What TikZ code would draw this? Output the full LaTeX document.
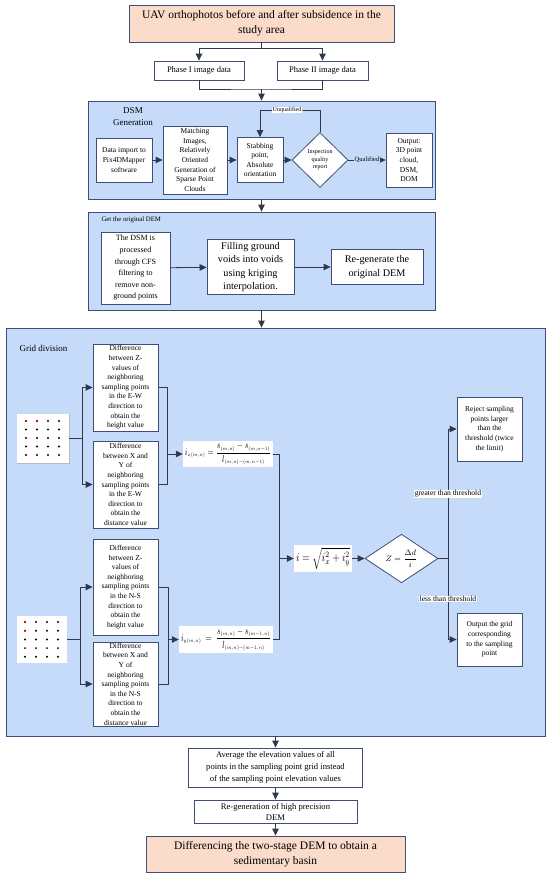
\documentclass[tikz,border=0pt]{standalone}
\usepackage{fontspec}
\setmainfont{Liberation Serif}
\usepackage{amsmath,amssymb}
\usepackage{graphicx}
\usepackage{tikz}
\usetikzlibrary{shapes.geometric,arrows.meta,positioning,calc}

\definecolor{peach}{RGB}{251,219,201}
\definecolor{panelblue}{RGB}{198,219,250}
\definecolor{edgeblue}{RGB}{62,78,118}
\definecolor{wire}{RGB}{50,56,74}

\begin{document}
\begin{tikzpicture}[
    x=1pt, y=-1pt,
    box/.style={rectangle, draw=edgeblue, fill=white, line width=0.8pt, align=center, inner sep=1pt},
    headbox/.style={box, fill=peach, font=\fontsize{11.5}{15}\selectfont},
    panel/.style={rectangle, draw=edgeblue, fill=panelblue, line width=0.8pt, inner sep=0pt},
    decision/.style={diamond, draw=edgeblue, fill=white, line width=0.8pt, align=center, inner sep=0pt},
    formula/.style={rectangle, fill=white, inner sep=0pt},
    line/.style={draw=wire, line width=0.8pt},
    arrow/.style={line, -{Triangle[width=6.5pt,length=7pt]}},
    lbl/.style={fill=white, inner sep=0.6pt, font=\fontsize{7.6}{8}\selectfont},
    small/.style={font=\fontsize{7.5}{9.6}\selectfont}
]
    \useasboundingbox (0,0) rectangle (550,878);

    % Input
    \node[headbox, minimum width=265pt, minimum height=37pt] (title) at (261.5,23.5)
        {UAV orthophotos before and after subsidence in the\\study area};
    \node[box, font=\fontsize{8.5}{10}\selectfont, minimum width=90pt, minimum height=19pt] (phaseA) at (199,70.5) {Phase I image data};
    \node[box, font=\fontsize{8.5}{10}\selectfont, minimum width=91pt, minimum height=19pt] (phaseB) at (322.5,70.5) {Phase II image data};
    \coordinate (split) at (261.5,48);
    \coordinate (merge) at (261.5,89);

    % DSM generation
    \node[panel, minimum width=347pt, minimum height=98pt] (dsmpanel) at (261.5,150) {};
    \node[font=\fontsize{9}{12}\selectfont, align=center] (dsmlbl) at (133,117) {DSM\\Generation};
    \node[box, small, minimum width=56pt, minimum height=44pt] (import) at (124,160)
        {Data import to\\Pix4DMapper\\software};
    \node[box, small, minimum width=64pt, minimum height=68pt] (match) at (195,160)
        {Matching\\Images,\\Relatively\\Oriented\\Generation of\\Sparse Point\\Clouds};
    \node[box, small, minimum width=46pt, minimum height=45pt] (stab) at (260,160)
        {Stabbing\\point,\\Absolute\\orientation};
    \node[decision, font=\fontsize{6}{7.5}\selectfont, minimum width=56pt, minimum height=55pt] (inspect) at (320,160)
        {Inspection\\quality\\report};
    \node[box, small, minimum width=46pt, minimum height=54pt] (dsmout) at (409,160)
        {Output:\\3D point\\cloud,\\DSM,\\DOM};
    \coordinate (unq) at (287,110);

    % Original DEM
    \node[panel, minimum width=347pt, minimum height=98pt] (dempanel) at (261.5,261) {};
    \node[anchor=west, font=\fontsize{6.8}{8}\selectfont] (demlbl) at (98,220) {Get the original DEM};
    \node[box, font=\fontsize{8}{11.6}\selectfont, minimum width=69pt, minimum height=72pt] (filter) at (135.5,268)
        {The DSM is\\processed\\through CFS\\filtering to\\remove non-\\ground points};
    \node[box, font=\fontsize{10.2}{13.6}\selectfont, minimum width=87pt, minimum height=55pt] (krig) at (250.5,267)
        {Filling ground\\voids into voids\\using kriging\\interpolation.};
    \node[box, font=\fontsize{10.2}{13.4}\selectfont, minimum width=92pt, minimum height=35pt] (regdem) at (377,267)
        {Re-generate the\\original DEM};

    % Grid division
    \node[panel, minimum width=539pt, minimum height=408pt] (gridpanel) at (275.5,532) {};
    \node[anchor=west, font=\fontsize{9}{11}\selectfont] (gridlbl) at (16,348) {Grid division};

    \node[rectangle, fill=white, minimum width=52pt, minimum height=49pt, inner sep=0pt] (gridEW) at (43,438.5) {};
    \node[rectangle, fill=white, minimum width=50pt, minimum height=47pt, inner sep=0pt] (gridNS) at (42,639.5) {};
    \draw[gray!55, line width=1pt] (gridEW.north east) -- (gridEW.south east) -- (gridEW.south west);
    \foreach \c in {0,...,3}
        \foreach \r in {0,...,4} {
            \fill ({26+\c*11},{421+\r*8.5}) circle (1.1pt);
            \fill ({25+\c*11},{622+\r*8.7}) circle (1.1pt);
        }
    \fill[red] (26,421) circle (1.1pt) (37,421) circle (1.1pt);
    \fill[red] (25,622) circle (1.1pt) (25,630.7) circle (1.1pt);

    \node[box, small, minimum width=65pt, minimum height=87pt] (zEW) at (125.5,387.5)
        {Difference\\between Z-\\values of\\neighboring\\sampling points\\in the E-W\\direction to\\obtain the\\height value};
    \node[box, small, minimum width=65pt, minimum height=87pt] (dEW) at (125.5,484.5)
        {Difference\\between X and\\Y of\\neighboring\\sampling points\\in the E-W\\direction to\\obtain the\\distance value};
    \node[box, small, minimum width=65pt, minimum height=96pt] (zNS) at (125.5,587)
        {Difference\\between Z-\\values of\\neighboring\\sampling points\\in the N-S\\direction to\\obtain the\\height value};
    \node[box, small, minimum width=65pt, minimum height=84pt] (dNS) at (125.5,684)
        {Difference\\between X and\\Y of\\neighboring\\sampling points\\in the N-S\\direction to\\obtain the\\distance value};

    \node[formula, minimum width=90pt, minimum height=26pt] (slopeX) at (228,454)
        {\resizebox*{86pt}{22pt}{$i_{\scriptscriptstyle x(m,n)}=\dfrac{s_{\scriptscriptstyle (m,n)}-s_{\scriptscriptstyle (m,n-1)}}{l_{\scriptscriptstyle (m,n)-(m,n-1)}}$}};
    \node[formula, minimum width=94pt, minimum height=27pt] (slopeY) at (226,639.5)
        {\resizebox*{90pt}{23pt}{$i_{\scriptscriptstyle y(m,n)}\;=\;\dfrac{s_{\scriptscriptstyle (m,n)}-s_{\scriptscriptstyle (m-1,n)}}{l_{\scriptscriptstyle (m,n)-(m-1,n)}}$}};
    \node[formula, minimum width=58pt, minimum height=27pt] (slope) at (323,558.5)
        {\resizebox*{54pt}{22pt}{$i=\sqrt{i_x^2+i_y^2}$}};
    \node[decision, font=\fontsize{8}{9}\selectfont, minimum width=73pt, minimum height=45pt] (zval) at (401.5,558.5)
        {$Z=\dfrac{\Delta d}{i}$};

    \node[box, font=\fontsize{7.5}{9.6}\selectfont, minimum width=65pt, minimum height=64pt] (reject) at (489.5,429)
        {Reject sampling\\points larger\\than the\\threshold (twice\\the limit)};
    \node[box, font=\fontsize{7.5}{9.6}\selectfont, minimum width=65pt, minimum height=53pt] (keep) at (489.5,639.5)
        {Output the grid\\corresponding\\to the sampling\\point};

    \coordinate (forkEW) at (82,438.5);
    \coordinate (joinEW) at (167,454);
    \coordinate (forkNS) at (80,639.5);
    \coordinate (joinNS) at (168,639.5);
    \coordinate (joinXY) at (279,558.5);
    \coordinate (thresh) at (448,558.5);

    % Output
    \node[box, font=\fontsize{8.6}{12}\selectfont, minimum width=174pt, minimum height=39pt] (average) at (275.5,767.5)
        {Average the elevation values of all\\points in the sampling point grid instead\\of the sampling point elevation values};
    \node[box, font=\fontsize{8.6}{11}\selectfont, minimum width=163pt, minimum height=23pt] (regen) at (275.5,811.5)
        {Re-generation of high precision\\DEM};
    \node[headbox, minimum width=259pt, minimum height=36pt] (basin) at (275.5,854)
        {Differencing the two-stage DEM to obtain a\\sedimentary basin};

    % Arrows
    \draw[line] (title.south) -- (split);
    \draw[arrow] (split) -| (phaseA.north);
    \draw[arrow] (split) -| (phaseB.north);
    \draw[line] (phaseA.south) |- (merge) -| (phaseB.south);
    \draw[arrow] (merge) -- (dsmpanel.north);

    \draw[arrow] (import) -- (match);
    \draw[arrow] (match) -- (stab);
    \draw[arrow] (stab) -- (inspect);
    \draw[arrow] (inspect) -- node[lbl, fill=panelblue, font=\fontsize{6.5}{7}\selectfont] {Qualified} (dsmout);
    \draw[arrow] (inspect.north) |- (unq) -| (stab.north);
    \node[lbl, font=\fontsize{6}{7}\selectfont] (unqlbl) at (unq) {Unqualified};

    \draw[arrow] (dsmpanel.south) -- (dempanel.north);
    \draw[arrow] (filter) -- (krig);
    \draw[arrow] (krig) -- (regdem);
    \draw[arrow] (dempanel.south) -- (dempanel.south |- gridpanel.north);

    \draw[line] (gridEW.east) -- (forkEW);
    \draw[arrow] (forkEW) |- (zEW.west);
    \draw[arrow] (forkEW) |- (dEW.west);
    \draw[line] (zEW.east) -| (joinEW);
    \draw[line] (dEW.east) -| (joinEW);
    \draw[arrow] (joinEW) -- (slopeX.west);

    \draw[line] (gridNS.east) -- (forkNS);
    \draw[arrow] (forkNS) |- (zNS.west);
    \draw[arrow] (forkNS) |- (dNS.west);
    \draw[line] (zNS.east) -| (joinNS);
    \draw[line] (dNS.east) -| (joinNS);
    \draw[arrow] (joinNS) -- (slopeY.west);

    \draw[line] (slopeX.east) -| (joinXY);
    \draw[line] (slopeY.east) -| (joinXY);
    \draw[arrow] (joinXY) -- (slope.west);
    \draw[arrow] (slope) -- (zval);
    \draw[line] (zval.east) -- (thresh);
    \draw[arrow] (thresh) |- node[lbl, pos=0.25] {greater than threshold} (reject.west);
    \draw[arrow] (thresh) |- node[lbl, pos=0.25] {less than threshold} (keep.west);

    \draw[arrow] (gridpanel.south) -- (average.north);
    \draw[arrow] (average) -- (regen);
    \draw[arrow] (regen) -- (basin);
\end{tikzpicture}
\end{document}
